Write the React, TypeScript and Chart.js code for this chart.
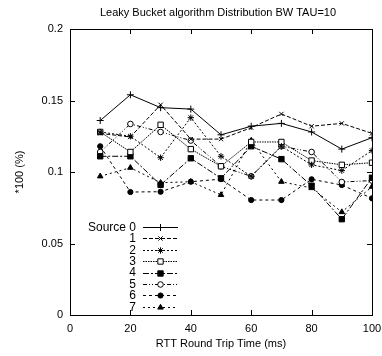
import React, { useEffect, useRef } from 'react';
import { Chart, registerables } from 'chart.js';
import { drawPoint } from 'chart.js/helpers';

Chart.register(...registerables);

const rtt = [10, 20, 30, 40, 50, 60, 70, 80, 90, 100];
const source0 = [0.136, 0.154, 0.145, 0.144, 0.126, 0.132, 0.134, 0.128, 0.116, 0.124];
const source1 = [0.127, 0.1245, 0.147, 0.123, 0.123, 0.131, 0.1406, 0.132, 0.134, 0.127];
const source2 = [0.128, 0.125, 0.110, 0.138, 0.111, 0.097, 0.118, 0.105, 0.101, 0.115];
const source3 = [0.128, 0.114, 0.133, 0.116, 0.104, 0.121, 0.121, 0.108, 0.105, 0.1065];
const source4 = [0.111, 0.111, 0.091, 0.1096, 0.0956, 0.118, 0.109, 0.0904, 0.067, 0.096];
const source5 = [0.114, 0.1336, 0.128, 0.122, 0.104, 0.097, 0.118, 0.114, 0.093, 0.094];
const source6 = [0.118, 0.086, 0.0862, 0.0932, 0.095, 0.0804, 0.0804, 0.0949, 0.0909, 0.0816];
const source7 = [0.097, 0.103, 0.0925, 0.0932, 0.084, 0.122, 0.0932, 0.0888, 0.072, 0.0897];

const seriesLabels = ['Source 0', '1', '2', '3', '4', '5', '6', '7'];
const xTickValues = [0, 20, 40, 60, 80, 100];
const yTickValues = [0, 0.05, 0.1, 0.15, 0.2];
const chartTitle = 'Leaky Bucket algorithm Distribution BW TAU=10';
const xTitle = 'RTT Round Trip Time (ms)';
const yTitle = '*100 (%)';

const FONT = '"Liberation Sans", Arial, Helvetica, sans-serif';

const styles = [
  { dash: [], point: 'cross', fill: '#000', r: 3.5 },
  { dash: [4, 2], point: 'crossRot', fill: '#000', r: 3 },
  { dash: [2, 2], point: 'star', fill: '#000', r: 3.2 },
  { dash: [1.5, 1], point: 'rect', fill: '#fff', r: 3.8 },
  { dash: [6, 2, 2, 2], point: 'rect', fill: '#000', r: 3.8 },
  { dash: [4, 2, 1, 2, 1, 2], point: 'circle', fill: '#fff', r: 2.8 },
  { dash: [3, 3], point: 'circle', fill: '#000', r: 2.6 },
  { dash: [2, 3], point: 'triangle', fill: '#000', r: 3.2 },
];

const allSeries = [source0, source1, source2, source3, source4, source5, source6, source7];

const framePlugin = {
  id: 'frame',
  afterDraw(chart: any) {
    const { ctx, chartArea: a } = chart;
    const xs = chart.scales.x;
    const ys = chart.scales.y;
    ctx.save();
    ctx.strokeStyle = '#000';
    ctx.lineWidth = 1;
    ctx.setLineDash([]);
    ctx.strokeRect(Math.round(a.left) + 0.5, Math.round(a.top) + 0.5, Math.round(a.right - a.left), Math.round(a.bottom - a.top));
    ctx.beginPath();
    const tl = 5;
    xTickValues.forEach((v) => {
      const x = Math.round(xs.getPixelForValue(v)) + 0.5;
      ctx.moveTo(x, a.bottom);
      ctx.lineTo(x, a.bottom - tl);
      ctx.moveTo(x, a.top);
      ctx.lineTo(x, a.top + tl);
    });
    yTickValues.forEach((v) => {
      const y = Math.round(ys.getPixelForValue(v)) + 0.5;
      ctx.moveTo(a.left, y);
      ctx.lineTo(a.left + tl, y);
      ctx.moveTo(a.right, y);
      ctx.lineTo(a.right - tl, y);
    });
    ctx.stroke();

    // title
    ctx.fillStyle = '#000';
    ctx.font = `11px ${FONT}`;
    ctx.textAlign = 'center';
    ctx.textBaseline = 'middle';
    ctx.fillText(chartTitle, (a.left + a.right) / 2 - 3, 13);

    // legend
    const textRight = 136;
    const lineStart = 143;
    const lineEnd = 178;
    const y0 = 227;
    const step = 11.4;
    chart.data.datasets.forEach((ds: any, i: number) => {
      const y = y0 + i * step;
      ctx.fillStyle = '#000';
      ctx.textAlign = 'right';
      ctx.font = `12px ${FONT}`;
      ctx.fillText(ds.label, textRight, y + 0.5);
      ctx.beginPath();
      ctx.setLineDash(ds.borderDash || []);
      ctx.lineWidth = 1;
      ctx.strokeStyle = '#000';
      ctx.moveTo(lineStart, Math.round(y) + 0.5);
      ctx.lineTo(lineEnd, Math.round(y) + 0.5);
      ctx.stroke();
      ctx.setLineDash([]);
      ctx.fillStyle = ds.pointBackgroundColor;
      ctx.strokeStyle = '#000';
      drawPoint(ctx, { pointStyle: ds.pointStyle, radius: ds.pointRadius, borderWidth: 1, rotation: 0 }, (lineStart + lineEnd) / 2, Math.round(y) + 0.5);
    });
    ctx.restore();
  },
};

export default function App() {
  const canvasRef = useRef<HTMLCanvasElement | null>(null);

  useEffect(() => {
    document.body.style.margin = '0';
    const canvas = canvasRef.current;
    if (!canvas) return;
    const datasets = allSeries.map((vals, i) => ({
      label: seriesLabels[i],
      data: rtt.map((x, j) => ({ x, y: vals[j] })),
      borderColor: '#000',
      borderWidth: 1,
      borderDash: styles[i].dash,
      pointStyle: styles[i].point,
      pointRadius: styles[i].r,
      pointBorderColor: '#000',
      pointBorderWidth: 1,
      pointBackgroundColor: styles[i].fill,
      backgroundColor: styles[i].fill,
      fill: false,
      tension: 0,
    }));
    const chart = new Chart(canvas, {
      type: 'line',
      data: { datasets },
      options: {
        responsive: false,
        animation: false,
        devicePixelRatio: 1,
        layout: { padding: { left: 0, top: 29, right: 10, bottom: 0 } },
        plugins: {
          legend: { display: false },
          title: { display: false },
          tooltip: { enabled: false },
        },
        scales: {
          x: {
            type: 'linear',
            min: 0,
            max: 100,
            afterFit: (s: any) => { s.height = 41; s.paddingLeft = 0; s.paddingRight = 0; },
            afterBuildTicks: (s: any) => { s.ticks = xTickValues.map((v) => ({ value: v })); },
            grid: { display: false, drawTicks: false },
            border: { display: false },
            ticks: { padding: 7, color: '#000', font: { family: FONT, size: 11 }, maxRotation: 0, callback: (v: any) => String(v) },
            title: { display: true, text: xTitle, color: '#000', font: { family: FONT, size: 11 }, padding: { top: 0, bottom: 5 } },
          },
          y: {
            type: 'linear',
            min: 0,
            max: 0.2,
            afterFit: (s: any) => { s.width = 70; s.paddingTop = 0; s.paddingBottom = 0; },
            afterBuildTicks: (s: any) => { s.ticks = yTickValues.map((v) => ({ value: v })); },
            grid: { display: false, drawTicks: false },
            border: { display: false },
            ticks: { padding: 7, color: '#000', font: { family: FONT, size: 11 }, callback: (v: any) => String(parseFloat(Number(v).toFixed(3))) },
            title: { display: true, text: yTitle, color: '#000', font: { family: FONT, size: 11 }, padding: { top: 13, bottom: 0 } },
          },
        },
      },
      plugins: [framePlugin],
    });
    return () => chart.destroy();
  }, []);

  return (
    <div style={{ width: 382, height: 356, background: '#fff' }}>
      <canvas ref={canvasRef} width={382} height={356} style={{ width: 382, height: 356, display: 'block' }} />
    </div>
  );
}
